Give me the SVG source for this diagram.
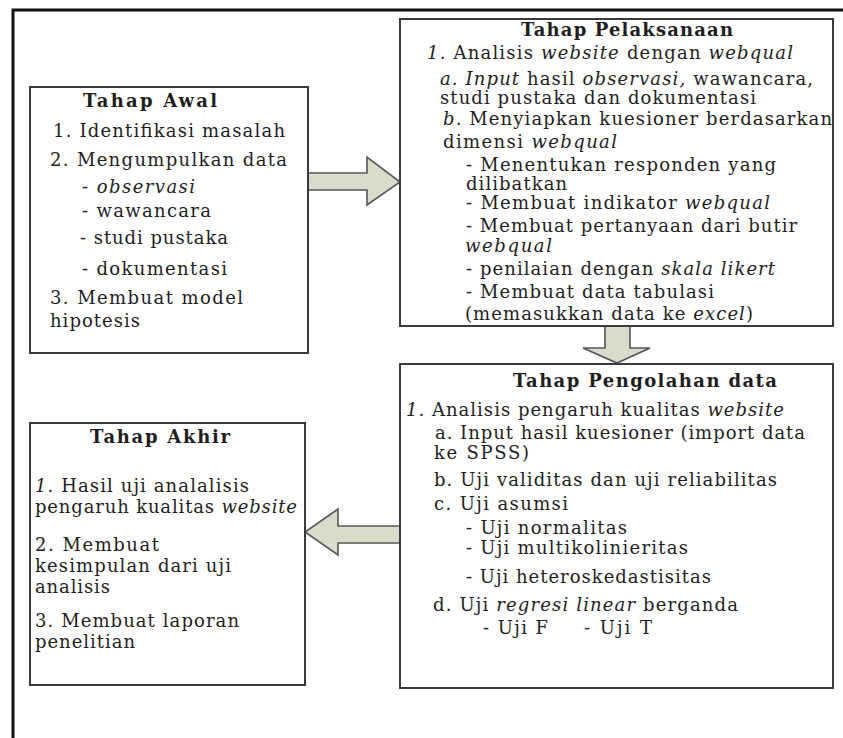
<svg xmlns="http://www.w3.org/2000/svg" width="843" height="738" viewBox="0 0 843 738">
<style>
  .box { fill: #ffffff; stroke: #3a3a3a; stroke-width: 2; }
  .arrow { fill: #d9dccb; stroke: #555555; stroke-width: 1.6; stroke-linejoin: miter; }
  text { font-family: "DejaVu Serif", "Liberation Serif", serif; font-size: 18px; fill: #1e1e1e; }
  .title { font-weight: bold; }
  .i { font-style: italic; }
</style>
<rect width="843" height="738" fill="#ffffff"/>
<path d="M13,738 V10 H843" fill="none" stroke="#111111" stroke-width="3"/>

<g id="connectors">
  <path class="arrow" d="M308,173 H367 V157 L400,182 L367,205 V190 H308 Z"/>
  <path class="arrow" d="M605,326 H630 V348 H650 L617,363 L583,348 H605 Z"/>
  <path class="arrow" d="M400,526 H338 V509 L305,532 L338,555 V543 H400 Z"/>
</g>

<g id="tahap-awal">
  <rect class="box" x="30" y="87" width="278" height="266"/>
  <text class="title" x="83" y="107" textLength="134" lengthAdjust="spacing">Tahap Awal</text>
  <text x="53" y="137" textLength="232" lengthAdjust="spacing">1. Identifikasi masalah</text>
  <text x="50" y="166" textLength="237" lengthAdjust="spacing">2. Mengumpulkan data</text>
  <text x="82" y="193" textLength="113" lengthAdjust="spacing">- <tspan class="i">observasi</tspan></text>
  <text x="82" y="217" textLength="129" lengthAdjust="spacing">- wawancara</text>
  <text x="80" y="244" textLength="148" lengthAdjust="spacing">- studi pustaka</text>
  <text x="82" y="275" textLength="145" lengthAdjust="spacing">- dokumentasi</text>
  <text x="50" y="304" textLength="193" lengthAdjust="spacing">3. Membuat model</text>
  <text x="50" y="327" textLength="90" lengthAdjust="spacing">hipotesis</text>
</g>

<g id="tahap-pelaksanaan">
  <rect class="box" x="400" y="19" width="433" height="307"/>
  <text class="title" x="521" y="36" textLength="212" lengthAdjust="spacing">Tahap Pelaksanaan</text>
  <text x="427" y="59" textLength="366" lengthAdjust="spacing"><tspan class="i">1.</tspan> Analisis <tspan class="i">website</tspan> dengan <tspan class="i">webqual</tspan></text>
  <text x="440" y="85" textLength="373" lengthAdjust="spacing"><tspan class="i">a. Input</tspan> hasil <tspan class="i">observasi,</tspan> wawancara,</text>
  <text x="440" y="104" textLength="316" lengthAdjust="spacing">studi pustaka dan dokumentasi</text>
  <text x="443" y="125" textLength="389" lengthAdjust="spacing"><tspan class="i">b.</tspan> Menyiapkan kuesioner berdasarkan</text>
  <text x="443" y="148" textLength="174" lengthAdjust="spacing">dimensi <tspan class="i">webqual</tspan></text>
  <text x="466" y="171" textLength="310" lengthAdjust="spacing">- Menentukan responden yang</text>
  <text x="466" y="190" textLength="101" lengthAdjust="spacing">dilibatkan</text>
  <text x="466" y="209" textLength="304" lengthAdjust="spacing">- Membuat indikator <tspan class="i">webqual</tspan></text>
  <text x="466" y="232" textLength="331" lengthAdjust="spacing">- Membuat pertanyaan dari butir</text>
  <text class="i" x="465" y="252" textLength="87" lengthAdjust="spacing">webqual</text>
  <text x="466" y="275" textLength="309" lengthAdjust="spacing">- penilaian dengan <tspan class="i">skala likert</tspan></text>
  <text x="466" y="298" textLength="248" lengthAdjust="spacing">- Membuat data tabulasi</text>
  <text x="465" y="320" textLength="288" lengthAdjust="spacing">(memasukkan data ke <tspan class="i">excel</tspan>)</text>
</g>

<g id="tahap-pengolahan-data">
  <rect class="box" x="400" y="364" width="433" height="324"/>
  <text class="title" x="513" y="387" textLength="264" lengthAdjust="spacing">Tahap Pengolahan  data</text>
  <text x="406" y="416" textLength="378" lengthAdjust="spacing"><tspan class="i">1.</tspan> Analisis pengaruh kualitas <tspan class="i">website</tspan></text>
  <text x="435" y="439" textLength="370" lengthAdjust="spacing">a. Input hasil kuesioner (import data</text>
  <text x="434" y="459" textLength="95" lengthAdjust="spacing">ke SPSS)</text>
  <text x="434" y="486" textLength="343" lengthAdjust="spacing">b. Uji validitas dan uji reliabilitas</text>
  <text x="434" y="510" textLength="134" lengthAdjust="spacing">c. Uji asumsi</text>
  <text x="466" y="534" textLength="161" lengthAdjust="spacing">- Uji normalitas</text>
  <text x="466" y="554" textLength="222" lengthAdjust="spacing">- Uji multikolinieritas</text>
  <text x="466" y="583" textLength="245" lengthAdjust="spacing">- Uji heteroskedastisitas</text>
  <text x="433" y="611" textLength="305" lengthAdjust="spacing">d. Uji <tspan class="i">regresi linear</tspan> berganda</text>
  <text x="483" y="634" textLength="65" lengthAdjust="spacing">- Uji F</text>
  <text x="584" y="634" textLength="68" lengthAdjust="spacing">- Uji T</text>
</g>

<g id="tahap-akhir">
  <rect class="box" x="30" y="423" width="275" height="262"/>
  <text class="title" x="90" y="443" textLength="140" lengthAdjust="spacing">Tahap Akhir</text>
  <text x="35" y="492" textLength="214" lengthAdjust="spacing"><tspan class="i">1.</tspan> Hasil uji analalisis</text>
  <text x="35" y="513" textLength="262" lengthAdjust="spacing">pengaruh kualitas <tspan class="i">website</tspan></text>
  <text x="35" y="551" textLength="124" lengthAdjust="spacing">2. Membuat</text>
  <text x="35" y="572" textLength="196" lengthAdjust="spacing">kesimpulan dari uji</text>
  <text x="35" y="593" textLength="75" lengthAdjust="spacing">analisis</text>
  <text x="35" y="627" textLength="204" lengthAdjust="spacing">3. Membuat laporan</text>
  <text x="35" y="648" textLength="100" lengthAdjust="spacing">penelitian</text>
</g>
</svg>
